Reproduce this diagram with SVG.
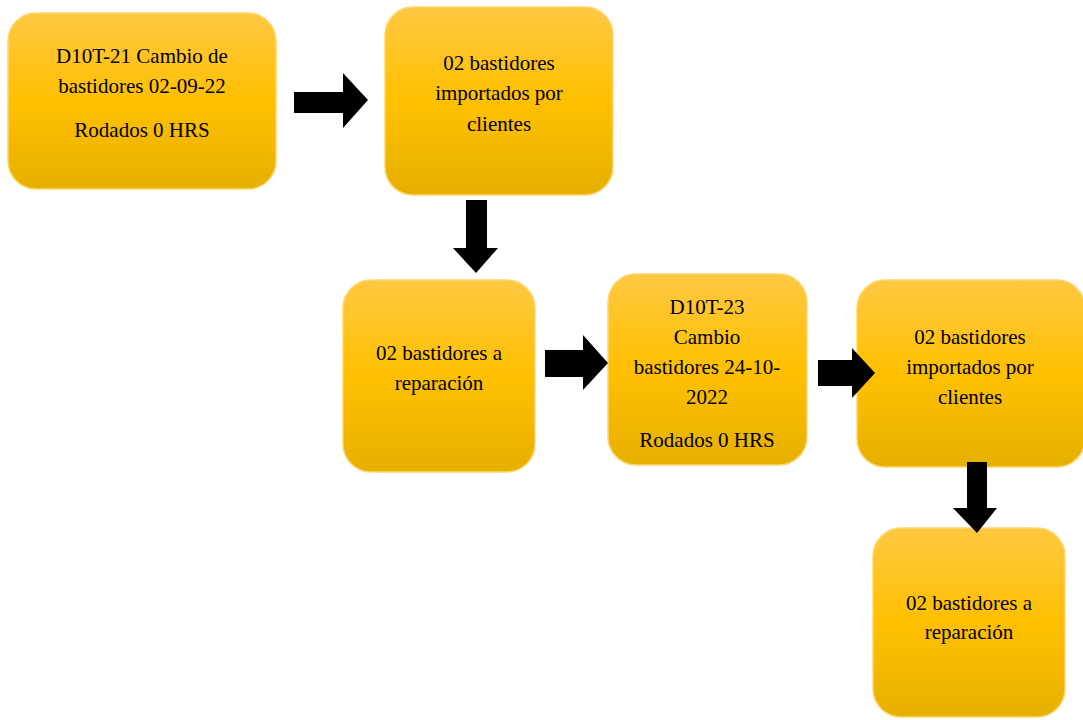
<svg xmlns="http://www.w3.org/2000/svg" width="1083" height="720" viewBox="0 0 1083 720">
<defs>
<linearGradient id="gold" x1="0" y1="0" x2="0" y2="1">
<stop offset="0" stop-color="#FFC843"/>
<stop offset="0.5" stop-color="#FFC000"/>
<stop offset="1" stop-color="#E6B000"/>
</linearGradient>
</defs>
<style>
.box{fill:url(#gold);stroke:#FFD66E;stroke-width:1.5}
.t{font-family:"Liberation Serif","Times New Roman",serif;font-size:21px;fill:#000;text-anchor:middle}
.arr{fill:#000}
</style>
<rect width="1083" height="720" fill="#fff"/>
<g id="n1"><rect class="box" x="8" y="13" width="268" height="176" rx="28"/>
<text class="t" x="142" y="63">D10T-21 Cambio de</text>
<text class="t" x="142" y="93">bastidores 02-09-22</text>
<text class="t" x="142" y="137">Rodados 0 HRS</text></g>
<g id="n2"><rect class="box" x="385" y="7" width="228" height="188" rx="28"/>
<text class="t" x="499" y="70">02 bastidores</text>
<text class="t" x="499" y="100">importados por</text>
<text class="t" x="499" y="131">clientes</text></g>
<g id="n3"><rect class="box" x="343" y="280" width="192" height="192" rx="28"/>
<text class="t" x="439" y="360">02 bastidores a</text>
<text class="t" x="439" y="390">reparación</text></g>
<g id="n4"><rect class="box" x="608" y="274" width="199" height="191" rx="28"/>
<text class="t" x="707" y="314">D10T-23</text>
<text class="t" x="707" y="344">Cambio</text>
<text class="t" x="707" y="374">bastidores 24-10-</text>
<text class="t" x="707" y="404">2022</text>
<text class="t" x="707" y="447">Rodados 0 HRS</text></g>
<g id="n5"><rect class="box" x="857" y="280" width="228" height="187" rx="28"/>
<text class="t" x="970" y="344">02 bastidores</text>
<text class="t" x="970" y="374">importados por</text>
<text class="t" x="970" y="404">clientes</text></g>
<g id="n6"><rect class="box" x="873" y="528" width="192" height="189" rx="28"/>
<text class="t" x="969" y="610">02 bastidores a</text>
<text class="t" x="969" y="639">reparación</text></g>
<g id="connectors">
<polygon class="arr" points="294,92 343,92 343,73 368,100 343,128 343,113 294,113"/>
<polygon class="arr" points="466,200 487,200 487,248 498,248 476,273 453,248 466,248"/>
<polygon class="arr" points="545,350 583,350 583,335 608,363 583,390 583,377 545,377"/>
<polygon class="arr" points="818,360 852,360 852,348 875,373 852,398 852,386 818,386"/>
<polygon class="arr" points="967,462 987,462 987,508 997,508 977,533 953,508 967,508"/>
</g>
</svg>
